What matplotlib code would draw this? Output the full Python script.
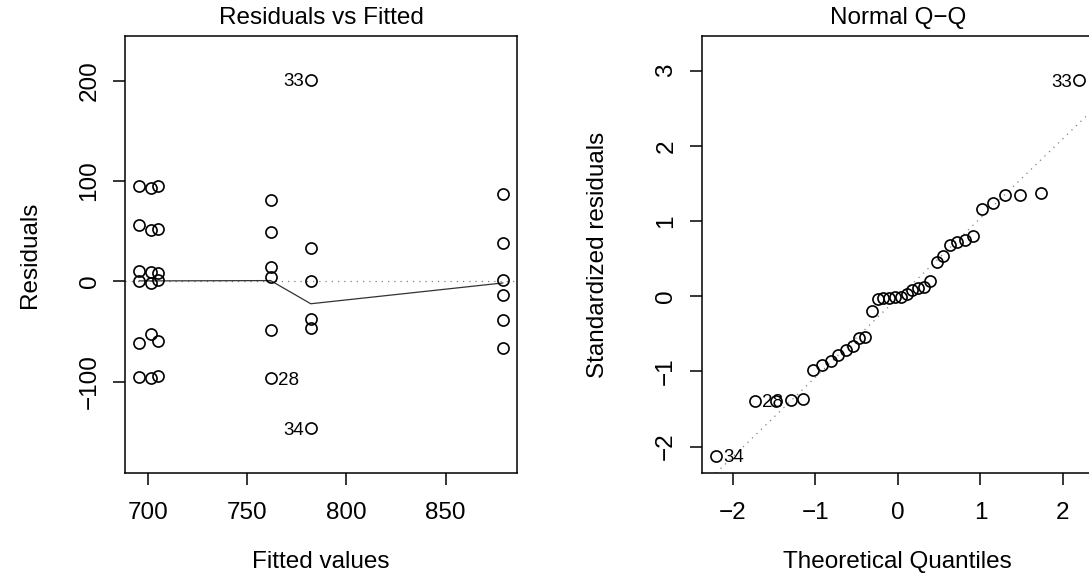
"""lm diagnostics: residuals vs fitted + normal Q-Q, in base-R look."""
import matplotlib
matplotlib.use("Agg")
import matplotlib.pyplot as plt

plt.rcParams["font.family"] = ["Liberation Sans", "DejaVu Sans"]

# ---- residuals vs fitted ----------------------------------------------------
fitted = [695.8, 695.8, 695.8, 695.8, 695.8, 695.8,
          701.5, 701.5, 701.5, 701.5, 701.5, 701.5,
          705.0, 705.0, 705.0, 705.0, 705.0, 705.0,
          761.9, 761.9, 761.9, 761.9, 761.9, 761.9,
          782.1, 782.1, 782.1, 782.1, 782.1, 782.1,
          878.7, 878.7, 878.7, 878.7, 878.7, 878.7]
resid = [94.7, 56.5, 10.0, 0.0, -61.4, -95.3,
         93.5, 51.2, 9.3, -1.7, -52.4, -96.3,
         95.3, 52.5, 8.0, 1.0, -59.8, -94.7,
         81.4, 48.9, 14.3, 4.4, -48.2, -96.3,
         201.0, 33.3, 0.0, -37.2, -46.5, -146.2,
         87.1, 38.3, 1.0, -13.3, -38.9, -66.4]
smooth_x = [695.8, 701.5, 705.0, 761.9, 782.1, 878.7]
smooth_y = [0.5, 0.5, 0.5, 0.8, -22.3, -1.6]
# labelled points: (id, x, y, side)
rvf_ids = [("33", 782.1, 201.0, "left"), ("28", 761.9, -96.3, "right"),
           ("34", 782.1, -146.2, "left")]

# ---- normal Q-Q -----------------------------------------------------------
theo = [-2.200, -1.732, -1.480, -1.298, -1.150, -1.025, -0.913, -0.812, -0.719,
        -0.631, -0.549, -0.469, -0.393, -0.319, -0.246, -0.175, -0.105, -0.035,
        0.035, 0.105, 0.175, 0.246, 0.319, 0.393, 0.469, 0.549, 0.631, 0.719,
        0.812, 0.913, 1.025, 1.150, 1.298, 1.480, 1.732, 2.200]
std_resid = [-2.12, -1.39, -1.39, -1.386, -1.364, -0.98, -0.91, -0.86, -0.78,
             -0.71, -0.66, -0.56, -0.545, -0.20, -0.03, -0.025, -0.02, -0.015,
             -0.005, 0.03, 0.08, 0.11, 0.12, 0.20, 0.46, 0.53, 0.685, 0.717,
             0.75, 0.805, 1.16, 1.235, 1.345, 1.35, 1.368, 2.87]
qq_slope, qq_intercept = 1.058, -0.02
qq_ids = [("34", -2.200, -2.12, "right"), ("28", -1.732, -1.39, "right"),
          ("33", 2.200, 2.87, "left")]

FS = 17.5
W, H = 1089, 573
fig = plt.figure(figsize=(W / 100, H / 100), dpi=100)
ax1 = fig.add_axes([125 / W, 100 / H, 392 / W, 437 / H])
ax2 = fig.add_axes([701.7 / W, 100 / H, 392.3 / W, 437 / H])


def r_style(ax):
    for s in ax.spines.values():
        s.set_linewidth(1.1)
    ax.tick_params(direction="out", length=8.6, width=1.1, labelsize=FS,
                   pad=9, top=False, right=False)
    ax.tick_params(axis="x", pad=12)
    ax.tick_params(axis="y", labelrotation=90)
    for t in ax.get_yticklabels():
        t.set_va("center")


def label_pts(ax, ids):
    for txt, x, y, side in ids:
        dx = -5 if side == "left" else 5
        ax.annotate(txt, (x, y), xytext=(dx, -1.5), textcoords="offset points",
                    ha="right" if side == "left" else "left", va="center",
                    fontsize=13.5)


mk = dict(marker="o", ls="none", mfc="none", mec="black", ms=8, mew=1.2)

ax1.axhline(0, ls=(0, (1, 4)), color="grey", lw=0.9)
ax1.plot(smooth_x, smooth_y, color="#333333", lw=0.9)
ax1.plot(fitted, resid, **mk)
label_pts(ax1, rvf_ids)
ax1.set_xlim(688.6, 885.9); ax1.set_ylim(-191, 244.6)
ax1.set_xticks([700, 750, 800, 850]); ax1.set_yticks([-100, 0, 100, 200])
r_style(ax1)
ax1.set_title("Residuals vs Fitted", fontsize=FS, y=1.042, va="center", pad=0)
ax1.set_xlabel("Fitted values", fontsize=FS, va="center")
ax1.xaxis.set_label_coords(0.5, -0.203)
ax1.set_ylabel("Residuals", fontsize=FS, va="center")
ax1.yaxis.set_label_coords(-0.242, 0.5)

ax2.axline((0, qq_intercept), slope=qq_slope, ls=(0, (1, 4)), color="grey", lw=0.9)
ax2.plot(theo, std_resid, **mk)
label_pts(ax2, qq_ids)
ax2.set_xlim(-2.376, 2.376); ax2.set_ylim(-2.35, 3.46)
ax2.set_xticks([-2, -1, 0, 1, 2]); ax2.set_yticks([-2, -1, 0, 1, 2, 3])
r_style(ax2)
ax2.set_title("Normal Q\u2212Q", fontsize=FS, y=1.042, va="center", pad=0)
ax2.set_xlabel("Theoretical Quantiles", fontsize=FS, va="center")
ax2.xaxis.set_label_coords(0.5, -0.203)
ax2.set_ylabel("Standardized residuals", fontsize=FS, va="center")
ax2.yaxis.set_label_coords(-0.264, 0.5)

fig.savefig("out.png", dpi=100)
